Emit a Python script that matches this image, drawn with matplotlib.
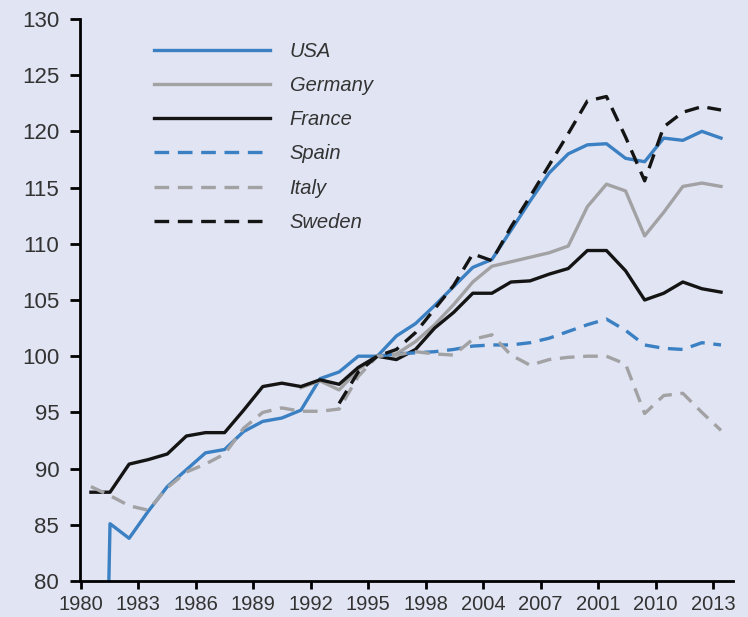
import numpy as np
import matplotlib
matplotlib.use("Agg")
import matplotlib.pyplot as plt

nan = np.nan

years = list(range(1980, 2014))

usa = [0, 85.1, 83.8, 86.2, 88.4, 89.9, 91.4, 91.7, 93.3, 94.2,
       94.5, 95.2, 98.0, 98.6, 100.0, 100.0, 101.8, 102.9, 104.5, 106.2,
       107.9, 108.6, 111.2, 113.8, 116.3, 118.0, 118.8, 118.9, 117.6, 117.3,
       119.4, 119.2, 120.0, 119.4]
germany = [nan] * 11 + [97.2, 97.8, 97.0, 98.8, 100.0, 100.2, 101.3, 102.8, 104.6,
                        106.6, 108.0, 108.4, 108.8, 109.2, 109.8, 113.3, 115.3, 114.7, 110.7,
                        112.8, 115.1, 115.4, 115.1]
france = [87.9, 87.9, 90.4, 90.8, 91.3, 92.9, 93.2, 93.2, 95.2, 97.3,
          97.6, 97.3, 97.9, 97.5, 99.0, 100.0, 99.7, 100.6, 102.5, 103.9,
          105.6, 105.6, 106.6, 106.7, 107.3, 107.8, 109.4, 109.4, 107.6, 105.0,
          105.6, 106.6, 106.0, 105.7]
spain = [nan] * 15 + [100.0, 100.2, 100.3, 100.4, 100.6,
                      100.9, 101.0, 101.0, 101.2, 101.6, 102.2, 102.8, 103.3, 102.3, 101.0,
                      100.7, 100.6, 101.2, 101.0]
italy = [88.4, 87.6, 86.7, 86.3, 88.3, 89.7, 90.4, 91.3, 93.6, 95.0,
         95.4, 95.1, 95.1, 95.3, 98.2, 100.0, 100.1, 100.4, 100.2, 100.1,
         101.5, 101.9, 100.1, 99.2, 99.7, 99.9, 100.0, 100.0, 99.3, 94.9,
         96.5, 96.7, 95.0, 93.4]
sweden = [nan] * 13 + [95.8, 98.6, 100.0, 100.6, 102.1, 104.2, 106.3,
                       109.1, 108.5, 111.5, 114.2, 117.0, 119.8, 122.7, 123.1, 119.5, 115.6,
                       120.4, 121.7, 122.2, 121.9]

# tick labels as printed in the source (sic)
xtick_labels = ["1980", "1983", "1986", "1989", "1992", "1995", "1998",
                "2004", "2007", "2001", "2010", "2013"]
yticks = [80, 85, 90, 95, 100, 105, 110, 115, 120, 125, 130]

BG = "#e1e4f2"
BLUE = "#3a80c3"
GREY = "#a2a2a4"
BLACK = "#141414"

fig = plt.figure(figsize=(7.48, 6.17), dpi=100)
fig.patch.set_facecolor(BG)
ax = fig.add_axes([0.107, 0.0583, 0.873, 0.911])
ax.set_facecolor(BG)

lw = 2.4
dash = (0, (4.4, 2.6))
ax.plot(years, usa, color=BLUE, lw=lw, label="USA")
ax.plot(years, germany, color=GREY, lw=lw, label="Germany")
ax.plot(years, france, color=BLACK, lw=lw, label="France")
ax.plot(years, spain, color=BLUE, lw=lw, ls=dash, label="Spain")
ax.plot(years, italy, color=GREY, lw=lw, ls=dash, label="Italy")
ax.plot(years, sweden, color=BLACK, lw=lw, ls=dash, label="Sweden")

ax.set_xlim(1979.43, 2013.63)
ax.set_ylim(80, 130)

for s in ["top", "right"]:
    ax.spines[s].set_visible(False)
for s in ["left", "bottom"]:
    ax.spines[s].set_linewidth(2.0)
    ax.spines[s].set_color("black")

ax.set_yticks(yticks)
ax.set_yticklabels([str(v) for v in yticks])
ax.set_xticks(np.linspace(1979.46, 2012.58, len(xtick_labels)))
ax.set_xticklabels(xtick_labels)
ax.tick_params(axis="y", length=7, width=2, pad=8, labelsize=16, labelcolor="#333333")
ax.tick_params(axis="x", length=6, width=2, pad=4, labelsize=14.5, labelcolor="#333333")
for t in ax.get_xticklabels() + ax.get_yticklabels():
    t.set_fontfamily(["Liberation Sans", "DejaVu Sans"])

leg = ax.legend(loc="upper left", bbox_to_anchor=(0.085, 0.992), frameon=False,
                handlelength=5.8, handletextpad=0.95, labelspacing=0.76,
                prop={"family": ["Liberation Sans", "DejaVu Sans"], "style": "italic", "size": 14.5})
for t in leg.get_texts():
    t.set_color("#333333")

fig.savefig("out.png", dpi=100, facecolor=BG)
